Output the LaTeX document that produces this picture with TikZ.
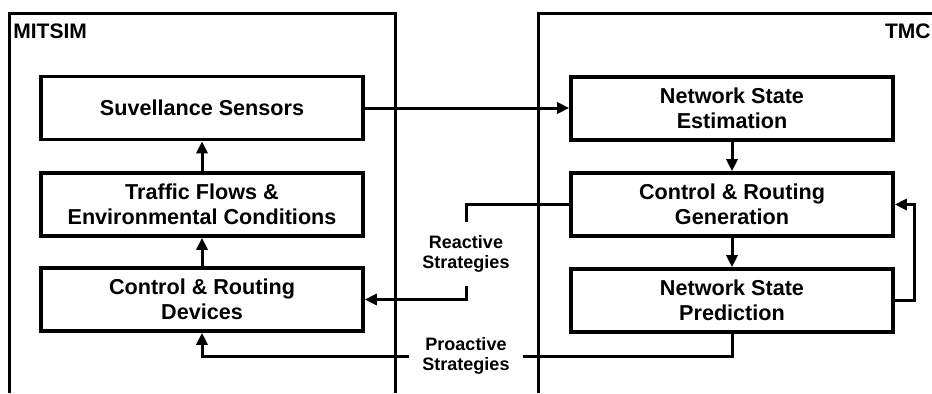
\documentclass[tikz,border=0pt]{standalone}
\usepackage{fontspec}
\setmainfont{Liberation Sans}
\usetikzlibrary{arrows.meta}
\begin{document}
\begin{tikzpicture}[x=0.5pt,y=-0.5pt,
  frame/.style={line width=1.5pt},
  block/.style={draw, line width=1.8pt, fill=white, minimum width=161pt,
    minimum height=31.5pt, align=center, inner sep=0pt,
    font=\fontsize{10.8}{12.5}\selectfont\bfseries},
  tag/.style={font=\fontsize{10.5}{12}\selectfont\bfseries, inner sep=0pt},
  strat/.style={align=center, font=\fontsize{9}{10}\selectfont\bfseries},
  link/.style={line width=1.5pt},
  flow/.style={link, -{Triangle[length=6pt,width=5.5pt]}}]
\useasboundingbox (0,0) rectangle (932,393);

% system frames, open towards the page edges
\draw[frame] (9,393) -- (9,13) -- (395,13) -- (395,393);
\draw[frame] (538,393) -- (538,13) -- (932,13);
\node[tag, anchor=north west] (mitsim) at (13,23) {MITSIM};
\node[tag, anchor=north east] (tmc) at (931,23) {TMC};

% MITSIM blocks
\node[block] (sens) at (202,108) {Suvellance Sensors};
\node[block] (flows) at (202,204.5) {Traffic Flows \&\\Environmental Conditions};
\node[block] (dev) at (202,299.5) {Control \& Routing\\Devices};

% TMC blocks
\node[block] (est) at (732,108.5) {Network State\\Estimation};
\node[block] (gen) at (732,204.5) {Control \& Routing\\Generation};
\node[block] (pred) at (732,300.5) {Network State\\Prediction};

% strategy labels sitting in the connector gaps
\node[strat, inner xsep=6.5pt, inner ysep=6.5pt] (react) at (466,254) {Reactive\\Strategies};
\node[strat, inner xsep=6.5pt, inner ysep=1pt] (proact) at (466,356) {Proactive\\Strategies};

% vertical chains
\draw[flow] (dev.north) -- (flows.south);
\draw[flow] (flows.north) -- (sens.south);
\draw[flow] (est.south) -- (gen.north);
\draw[flow] (gen.south) -- (pred.north);

% surveillance data to estimation
\draw[flow] (sens.east) -- (sens.east -| est.west);

% reactive strategies
\draw[link] (gen.west) -| (react.north);
\draw[flow] (react.south) |- (dev.east);

% proactive strategies
\draw[link] (pred.south) |- (proact.east);
\draw[flow] (proact.west) -| (dev.south);

% prediction feeds back into generation
\coordinate (fb) at (914,204.5);
\draw[flow] (pred.east) -| (fb) -- (gen.east);
\end{tikzpicture}
\end{document}
